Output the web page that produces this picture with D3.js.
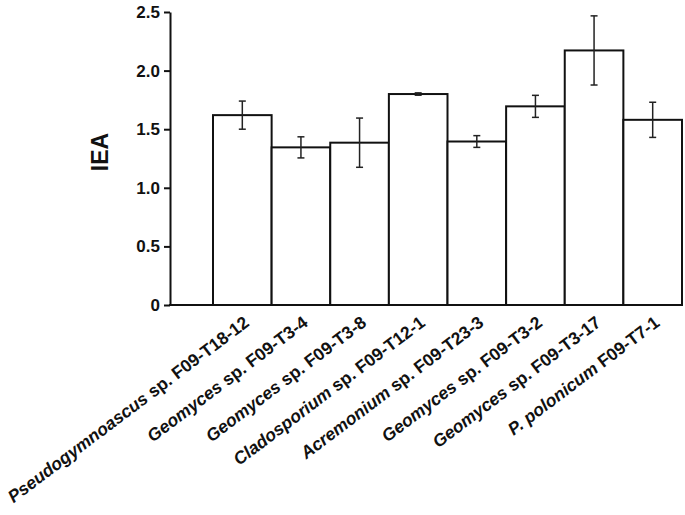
<!DOCTYPE html>
<html><head><meta charset="utf-8">
<script src="https://cdn.jsdelivr.net/npm/d3@7"></script>
<style>body{margin:0;background:#fff}</style>
</head><body>
<svg id="c" width="685" height="515"></svg>
<script>
const genus = ["Pseudogymnoascus","Geomyces","Geomyces","Cladosporium","Acremonium","Geomyces","Geomyces","P. polonicum"];
const strain = [" sp. F09-T18-12"," sp. F09-T3-4"," sp. F09-T3-8"," sp. F09-T12-1"," sp. F09-T23-3"," sp. F09-T3-2"," sp. F09-T3-17"," F09-T7-1"];
const values = [1.62, 1.345, 1.385, 1.80, 1.395, 1.695, 2.172, 1.58];
const errors = [0.12, 0.09, 0.21, 0.01, 0.05, 0.094, 0.295, 0.15];
const yTicks = [0, 0.5, 1.0, 1.5, 2.0, 2.5];
const yTickLabels = ["0","0.5","1.0","1.5","2.0","2.5"];

const svg = d3.select("#c");
const axisLeftX = 170, y0 = 305, yTop = 12;
const x = d3.scaleBand().domain(d3.range(values.length)).range([213, 682]).padding(0);
const y = d3.scaleLinear().domain([0, 2.5]).range([y0, yTop]);
const font = "'Liberation Sans', Arial, sans-serif";

// bars
svg.selectAll("rect.bar").data(values).join("rect")
  .attr("x", (d,i)=>x(i)).attr("y", d=>y(d))
  .attr("width", x.bandwidth()).attr("height", d=>y(0)-y(d))
  .attr("fill","#fff").attr("stroke","#111").attr("stroke-width",2);

// error bars
const eg = svg.append("g").attr("stroke","#222").attr("stroke-width",1.5);
values.forEach((v,i)=>{
  const cx = x(i)+x.bandwidth()/2, e = errors[i];
  eg.append("line").attr("x1",cx).attr("x2",cx).attr("y1",y(v+e)).attr("y2",y(v-e));
  eg.append("line").attr("x1",cx-3.5).attr("x2",cx+3.5).attr("y1",y(v+e)).attr("y2",y(v+e));
  eg.append("line").attr("x1",cx-3.5).attr("x2",cx+3.5).attr("y1",y(v-e)).attr("y2",y(v-e));
});

// y axis
const ya = svg.append("g").attr("transform",`translate(${axisLeftX},0)`)
  .call(d3.axisLeft(y).tickValues(yTicks).tickFormat((d,i)=>yTickLabels[i]).tickSize(6).tickSizeOuter(0));
ya.select(".domain").attr("stroke","#111").attr("stroke-width",2);
ya.selectAll(".tick line").attr("stroke","#111").attr("stroke-width",2);
ya.selectAll(".tick text").attr("font-family",font).attr("font-weight","bold").attr("font-size",17).attr("fill","#111").attr("x",-10);

// x axis line
svg.append("line").attr("x1",axisLeftX-1).attr("x2",682).attr("y1",y0).attr("y2",y0).attr("stroke","#111").attr("stroke-width",2);

// x labels
const lg = svg.append("g");
genus.forEach((g,i)=>{
  const cx = x(i)+x.bandwidth()/2;
  const t = lg.append("text").attr("transform",`translate(${cx+8},${y0+20}) rotate(-37)`)
    .attr("text-anchor","end").attr("font-family",font).attr("font-weight","bold").attr("font-size",17.5).attr("fill","#111");
  t.append("tspan").attr("font-style","italic").text(g);
  t.append("tspan").text(strain[i]);
});

// y title
svg.append("text").attr("transform",`translate(108,152) rotate(-90)`).attr("text-anchor","middle")
  .attr("font-family",font).attr("font-weight","bold").attr("font-size",23).attr("fill","#111").text("IEA");
</script>
</body></html>
